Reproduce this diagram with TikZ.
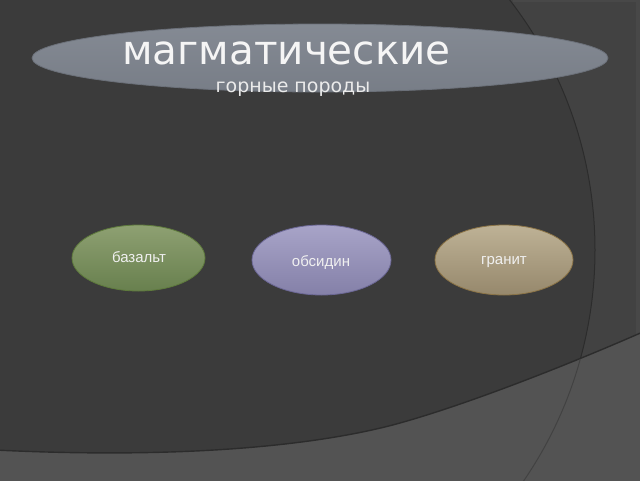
\documentclass[tikz,border=0pt]{standalone}
\usepackage{fontspec}
\setmainfont{Liberation Sans}
\newfontfamily\dejavu{DejaVu Sans}
\usetikzlibrary{shapes.geometric}
\definecolor{bgdark}{HTML}{3B3B3B}
\definecolor{bgright}{HTML}{424242}
\definecolor{bgbottom}{HTML}{535353}
\definecolor{arcline}{HTML}{2C2C2C}
\definecolor{arclow}{HTML}{424242}
\definecolor{curveline}{HTML}{2C2C2C}
\definecolor{edgestrip}{HTML}{484848}
\definecolor{titlefill}{HTML}{7E848E}
\definecolor{greendraw}{HTML}{5E7A3C}
\definecolor{greentop}{HTML}{8EA072}
\definecolor{greenbot}{HTML}{68804E}
\definecolor{violetdraw}{HTML}{6C6896}
\definecolor{violettop}{HTML}{A8A4C8}
\definecolor{violetbot}{HTML}{8480A8}
\definecolor{tandraw}{HTML}{8C7446}
\definecolor{tantop}{HTML}{BEB296}
\definecolor{tanbot}{HTML}{96886C}
\definecolor{lbltext}{HTML}{F0F0F0}
\definecolor{bigtext}{HTML}{F5F5F5}
\definecolor{subtext}{HTML}{EBEBEB}
\tikzset{
  ell/.style={ellipse, inner sep=0pt, line width=0.8pt},
  titleell/.style={ell, minimum width=576pt, minimum height=68pt, draw=titlefill!85!black,
    top color=titlefill!95!white, bottom color=titlefill!95!black},
  greenell/.style={ell, minimum width=133pt, minimum height=66pt, draw=greendraw,
    top color=greentop, bottom color=greenbot},
  violetell/.style={ell, minimum width=139pt, minimum height=70pt, draw=violetdraw,
    top color=violettop, bottom color=violetbot},
  tanell/.style={ell, minimum width=138pt, minimum height=70pt, draw=tandraw,
    top color=tantop, bottom color=tanbot},
  lbl/.style={text=lbltext, inner sep=0pt, font=\fontsize{15}{17}\selectfont},
  bigtxt/.style={text=bigtext, inner sep=0pt, anchor=base, font=\dejavu\fontsize{40.5}{44}\selectfont},
  subtxt/.style={text=subtext, inner sep=0pt, anchor=base, font=\dejavu\fontsize{19}{22}\selectfont},
}
\begin{document}
\begin{tikzpicture}[x=1pt,y=-1pt]
\useasboundingbox (0,0) rectangle (640,480);
% background
\fill[bgright] (0,0) rectangle (640,480);
\fill[edgestrip] (513,0) rectangle (640,2);
\fill[edgestrip] (636,0) rectangle (640,340);
\begin{scope}
  \clip (0,0) rectangle (640,480);
  \fill[bgdark] (186,250) circle (409);
  \draw[arcline, line width=1pt] (186,250) circle (409);
\end{scope}
\begin{scope}
  \clip (0,0) rectangle (640,480);
  \fill[bgbottom] (-5,450) .. controls (200,460) and (330,442.6) .. (400,423) .. controls (470,403.4) and (570,364) .. (645,331) -- (645,485) -- (-5,485) -- cycle;
  \draw[curveline, line width=1.4pt] (-5,450) .. controls (200,460) and (330,442.6) .. (400,423) .. controls (470,403.4) and (570,364) .. (645,331);
  \clip (-5,451) .. controls (200,461) and (330,443.6) .. (400,424) .. controls (470,404.4) and (570,365) .. (645,332) -- (645,485) -- (-5,485) -- cycle;
  \draw[arclow, line width=1pt] (186,250) circle (409);
\end{scope}
% title
\node[titleell] (title) at (320,58) {};
\node[bigtxt] (t1) at (286.5,64) {магматические};
\node[subtxt] (t2) at (293,92) {горные породы};
% rocks
\node[greenell] (basalt) at (138.5,258) {};
\node[lbl] (basaltlbl) at (139,257) {базальт};
\node[violetell] (obsidian) at (321.5,260) {};
\node[lbl] (obsidianlbl) at (321,262) {обсидин};
\node[tanell] (granite) at (504,260) {};
\node[lbl] (granitelbl) at (504,262) {гранит};
\end{tikzpicture}
\end{document}
